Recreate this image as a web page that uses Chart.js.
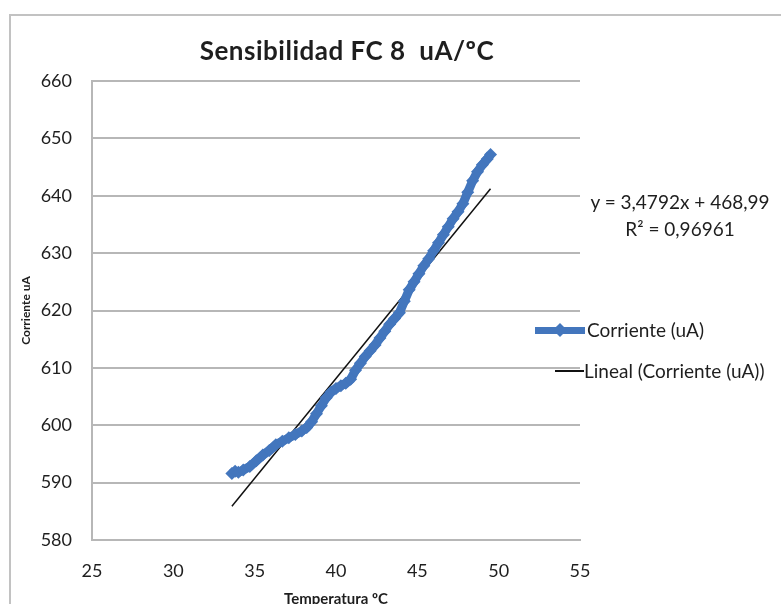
<!DOCTYPE html>
<html>
<head>
<meta charset="utf-8">
<script src="https://cdn.jsdelivr.net/npm/chart.js@4.4.1/dist/chart.umd.min.js"></script>
<style>
    html, body { margin: 0; padding: 0; background: #fff; overflow: hidden; }
    #wrap { position: relative; width: 781px; height: 604px; overflow: hidden; }
    #frame { position: absolute; left: 9px; top: 14px; width: 820px; height: 640px; border: 2px solid #c2c2c2; box-sizing: border-box; }
    #chart { position: absolute; left: 0; top: 0; }
    .txt { position: absolute; font-family: Lato, sans-serif; color: #1e1e1e; white-space: pre; }
    #title { left: 347px; top: 34px; transform: translateX(-50%); font-size: 26px; font-weight: bold; line-height: 32px; letter-spacing: 0.5px; }
    #equation { left: 580px; top: 188px; width: 200px; text-align: center; font-size: 19px; line-height: 27px; }
    .legend-line { position: absolute; }
    .legend-diamond { position: absolute; width: 10px; height: 10px; transform: rotate(45deg); }
</style>
</head>
<body>
<div id="wrap">
    <div id="frame"></div>
    <canvas id="chart" width="781" height="604"></canvas>
    <div id="title" class="txt"></div>
    <div id="equation" class="txt"></div>
    <div id="legend"></div>
</div>
<script>
// data
const chartTitle = 'Sensibilidad FC 8  uA/ºC';
const xAxisTitle = 'Temperatura ºC';
const yAxisTitle = 'Corriente uA';
const seriesLabel = 'Corriente (uA)';
const trendLabel = 'Lineal (Corriente (uA))';

const xTickValues = [25, 30, 35, 40, 45, 50, 55];
const yTickValues = [580, 590, 600, 610, 620, 630, 640, 650, 660];

const temperatura = [33.6, 33.8, 34.0, 34.3, 34.7, 35.1, 35.5, 35.9, 36.3, 36.7,
    37.1, 37.5, 37.9, 38.2, 38.5, 38.8, 39.1, 39.4, 39.7, 40.0,
    40.3, 40.6, 40.9, 41.2, 41.5, 41.8, 42.1, 42.4, 42.7, 43.0,
    43.3, 43.6, 43.9, 44.2, 44.5, 44.8, 45.1, 45.4, 45.7, 46.0,
    46.3, 46.6, 46.9, 47.2, 47.5, 47.8, 48.1, 48.4, 48.7, 49.0,
    49.3, 49.5];
const corriente = [591.6, 592.0, 591.8, 592.2, 592.8, 593.8, 594.8, 595.6, 596.6, 597.2,
    597.8, 598.4, 599.0, 599.6, 600.6, 602.0, 603.4, 604.8, 605.8, 606.4,
    606.9, 607.3, 608.0, 609.6, 610.8, 612.0, 613.0, 614.0, 615.2, 616.4,
    617.6, 618.6, 619.6, 621.6, 623.6, 625.0, 626.4, 627.8, 629.0, 630.4,
    631.8, 633.2, 634.6, 636.0, 637.2, 638.6, 640.6, 642.6, 644.2, 645.4,
    646.4, 647.2];

// linear trendline shown on the chart
const trendSlope = 3.4792;
const trendIntercept = 468.99;
const trendR2 = '0,96961';

const blue = '#4376bd';
const gridColor = '#b7b7b7';
const textColor = '#1e1e1e';

(function () {
    document.getElementById('title').textContent = chartTitle;
    document.getElementById('equation').innerHTML =
        'y = ' + String(trendSlope).replace('.', ',') + 'x + ' + String(trendIntercept).replace('.', ',') +
        '<br>R² = ' + trendR2;

    const points = temperatura.map((t, i) => ({ x: t, y: corriente[i] }));
    const tMin = Math.min.apply(null, temperatura);
    const tMax = Math.max.apply(null, temperatura);
    const trend = [tMin, tMax].map((t) => ({ x: t, y: trendSlope * t + trendIntercept }));

    // legend, Excel style, overlapping the plot edge
    const legend = document.getElementById('legend');
    function addLegend(label, color, lineLeft, lineWidth, thickness, y, textLeft, diamond) {
        const line = document.createElement('div');
        line.className = 'legend-line';
        line.style.left = lineLeft + 'px';
        line.style.top = (y - thickness / 2) + 'px';
        line.style.width = lineWidth + 'px';
        line.style.height = thickness + 'px';
        line.style.background = color;
        legend.appendChild(line);
        if (diamond) {
            const d = document.createElement('div');
            d.className = 'legend-diamond';
            d.style.left = (lineLeft + lineWidth / 2 - 5) + 'px';
            d.style.top = (y - 5) + 'px';
            d.style.background = color;
            legend.appendChild(d);
        }
        const txt = document.createElement('div');
        txt.className = 'txt';
        txt.style.left = textLeft + 'px';
        txt.style.top = (y - 12) + 'px';
        txt.style.fontSize = '19px';
        txt.style.lineHeight = '24px';
        txt.textContent = label;
        legend.appendChild(txt);
    }
    addLegend(seriesLabel, blue, 535, 50, 7, 330, 587, true);
    addLegend(trendLabel, '#111', 555, 29, 1.5, 371, 584, false);

    new Chart(document.getElementById('chart'), {
        type: 'scatter',
        data: {
            datasets: [
                {
                    label: seriesLabel,
                    data: points,
                    showLine: true,
                    borderColor: blue,
                    backgroundColor: blue,
                    borderWidth: 9,
                    pointStyle: 'rectRot',
                    pointRadius: 6.5,
                    pointBorderWidth: 0,
                    tension: 0
                },
                {
                    label: trendLabel,
                    data: trend,
                    showLine: true,
                    borderColor: '#111',
                    borderWidth: 1.5,
                    pointRadius: 0
                }
            ]
        },
        options: {
            responsive: false,
            animation: false,
            layout: { padding: { left: 10, right: 201, top: 81, bottom: 0 } },
            plugins: {
                legend: { display: false },
                tooltip: { enabled: false },
                title: { display: false }
            },
            scales: {
                x: {
                    type: 'linear',
                    min: xTickValues[0],
                    max: xTickValues[xTickValues.length - 1],
                    ticks: {
                        stepSize: 5,
                        padding: 20,
                        color: textColor,
                        font: { family: 'Lato', size: 18 }
                    },
                    grid: { display: false, drawTicks: false },
                    border: { display: true, color: gridColor, width: 2 },
                    title: {
                        display: true,
                        text: xAxisTitle,
                        color: textColor,
                        font: { family: 'Lato', size: 15, weight: 'bold', lineHeight: 1 },
                        padding: { top: 0, bottom: -3 }
                    },
                    afterFit: (scale) => { scale.height = 64; }
                },
                y: {
                    type: 'linear',
                    min: yTickValues[0],
                    max: yTickValues[yTickValues.length - 1],
                    ticks: {
                        stepSize: 10,
                        padding: 20,
                        color: textColor,
                        font: { family: 'Lato', size: 18 }
                    },
                    grid: { color: gridColor, lineWidth: 2, drawTicks: false },
                    border: { display: true, color: gridColor, width: 2 },
                    title: {
                        display: true,
                        text: yAxisTitle,
                        color: textColor,
                        font: { family: 'Lato', size: 12, weight: 'bold' },
                        padding: { top: 9, bottom: 0 }
                    },
                    afterFit: (scale) => { scale.width = 82; }
                }
            }
        }
    });
})();
</script>
</body>
</html>
